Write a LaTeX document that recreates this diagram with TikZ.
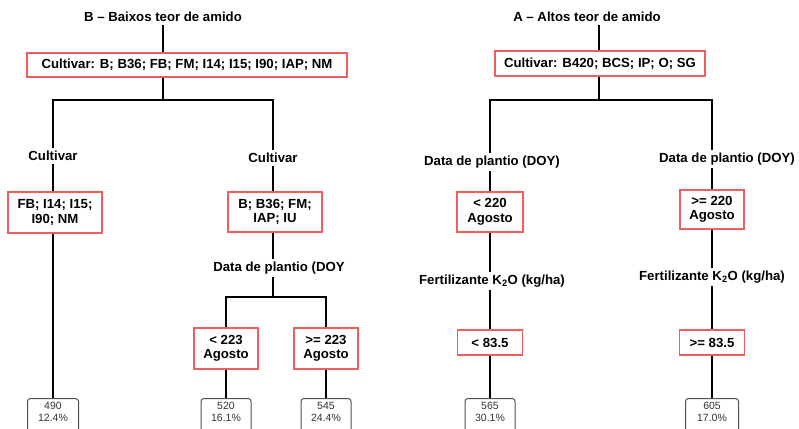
\documentclass[tikz,border=0pt]{standalone}
\usepackage{fontspec}
\setmainfont{Liberation Sans}
\usepackage{xcolor}
\definecolor{splitred}{RGB}{240,95,95}
\definecolor{leafgray}{RGB}{80,80,80}
\usetikzlibrary{positioning,calc}

\tikzset{
  lbl/.style={font=\bfseries\fontsize{13.2}{14.5}\selectfont, inner sep=3pt, align=center},
  split/.style={draw=splitred, line width=1.1pt, fill=white, font=\bfseries\fontsize{13.2}{14.5}\selectfont,
    align=center, inner sep=0pt},
  leaf/.style={draw=leafgray, line width=1pt, rounded corners=3pt, fill=white, align=center,
    font=\fontsize{10.5}{12.5}\selectfont, text=black!80, inner sep=0pt, text depth=7pt, anchor=north},
  edge/.style={line width=1.3pt}
}

\begin{document}
\begin{tikzpicture}[x=1pt,y=-1pt]
    \useasboundingbox (0,0) rectangle (799,428);
    \fill[white] (0,0) rectangle (799,428);

    % B - low starch
    \node[lbl] (titleB) at (163,17) {B -- Baixos teor de amido};
    \node[split, minimum width=320, minimum height=24] (rootB) at (187,65) {Cultivar: B; B36; FB; FM; I14; I15; I90; IAP; NM};
    \coordinate (splitB) at (163,100);
    \node[lbl] (cultL) at (53,156) {Cultivar};
    \node[lbl] (cultR) at (273,158) {Cultivar};
    \node[split, minimum width=94, minimum height=41] (grpL) at (55,212.5) {FB; I14; I15;\\I90; NM};
    \node[split, minimum width=94, minimum height=40] (grpR) at (275,212) {B; B36; FM;\\IAP; IU};
    \node[lbl] (doyB) at (279,268) {Data de plantio (DOY};
    \coordinate (splitD) at (273,297);
    \node[split, minimum width=64, minimum height=41] (lt223) at (226,348.5) {< 223\\Agosto};
    \node[split, minimum width=64, minimum height=41] (ge223) at (326,348.5) {>= 223\\Agosto};
    \node[leaf, minimum width=51, minimum height=34] (leaf490) at (53,398) {490\\12.4\%};
    \node[leaf, minimum width=50, minimum height=34] (leaf520) at (226,398) {520\\16.1\%};
    \node[leaf, minimum width=50, minimum height=34] (leaf545) at (326,398) {545\\24.4\%};

    \draw[edge] (titleB.south) -- (titleB.south |- rootB.north);
    \draw[edge] (splitB |- rootB.south) -- (splitB);
    \draw[edge] (splitB) -| (cultL.north);
    \draw[edge] (splitB) -| (cultR.north);
    \draw[edge] (cultL.south) -- (cultL.south |- grpL.north);
    \draw[edge] (cultR.south) -- (cultR.south |- grpR.north);
    \draw[edge] (grpL.south -| leaf490.north) -- (leaf490.north);
    \draw[edge] (grpR.south -| splitD) -- (splitD |- doyB.north);
    \draw[edge] (splitD |- doyB.south) -- (splitD);
    \draw[edge] (splitD) -| (lt223.north);
    \draw[edge] (splitD) -| (ge223.north);
    \draw[edge] (lt223.south) -- (leaf520.north);
    \draw[edge] (ge223.south) -- (leaf545.north);

    % A - high starch
    \node[lbl] (titleA) at (587,17) {A -- Altos teor de amido};
    \node[split, minimum width=210, minimum height=25] (rootA) at (600,63.5) {Cultivar: B420; BCS; IP; O; SG};
    \coordinate (splitA) at (599,100);
    \node[lbl] (doyA1) at (492,162) {Data de plantio (DOY)};
    \node[lbl] (doyA2) at (727,159) {Data de plantio (DOY)};
    \node[split, minimum width=66, minimum height=40] (lt220) at (490,212) {< 220\\Agosto};
    \node[split, minimum width=64, minimum height=39] (ge220) at (712,209.5) {>= 220\\Agosto};
    \node[lbl] (fertA1) at (492,281) {Fertilizante K\textsubscript{2}O (kg/ha)};
    \node[lbl] (fertA2) at (712,277) {Fertilizante K\textsubscript{2}O (kg/ha)};
    \node[split, minimum width=65, minimum height=25] (lt835) at (490,342.5) {< 83.5};
    \node[split, minimum width=65, minimum height=25] (ge835) at (712,342.5) {>= 83.5};
    \node[leaf, minimum width=50, minimum height=34] (leaf565) at (490,398) {565\\30.1\%};
    \node[leaf, minimum width=53, minimum height=34] (leaf605) at (712,398) {605\\17.0\%};

    \draw[edge] (titleA.south -| splitA) -- (splitA |- rootA.north);
    \draw[edge] (splitA |- rootA.south) -- (splitA);
    \draw[edge] (splitA) -| (lt220.north |- doyA1.north);
    \draw[edge] (splitA) -| (ge220.north |- doyA2.north);
    \draw[edge] (lt220.north |- doyA1.south) -- (lt220.north);
    \draw[edge] (ge220.north |- doyA2.south) -- (ge220.north);
    \draw[edge] (lt220.south) -- (lt220.south |- fertA1.north);
    \draw[edge] (ge220.south) -- (ge220.south |- fertA2.north);
    \draw[edge] (lt835.north |- fertA1.south) -- (lt835.north);
    \draw[edge] (ge835.north |- fertA2.south) -- (ge835.north);
    \draw[edge] (lt835.south) -- (leaf565.north);
    \draw[edge] (ge835.south) -- (leaf605.north);
\end{tikzpicture}
\end{document}
